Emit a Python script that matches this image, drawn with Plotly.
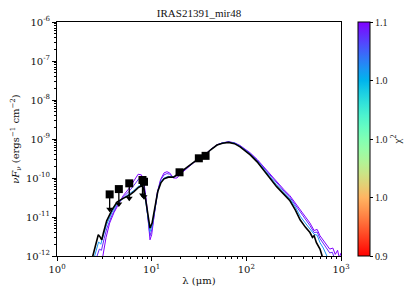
import plotly.graph_objects as go
import math

# ---------------- data ----------------
obs_wav = [3.6, 4.5, 5.8, 8.0, 8.3, 19.7, 31.5, 37.1]
obs_flux = [3.8e-11, 5.2e-11, 7.3e-11, 8.9e-11, 8.0e-11, 1.4e-10, 3.2e-10, 3.7e-10]
obs_uplim = [True, True, True, True, True, False, False, False]

best_wav = [2.3, 2.38, 2.55, 2.73, 2.85, 2.97, 3.1, 3.35, 3.8, 4.3, 5.0, 5.8, 6.5, 7.3, 7.9, 8.3,
            8.7, 9.2, 9.6, 10.1, 10.8, 11.6, 12.5, 13.5, 15, 17, 19.7, 25, 31.5, 37, 42, 49,
            56, 65, 75, 86, 100, 110, 130, 151, 180, 209, 250, 289, 330, 370, 420, 470,
            500, 520, 550, 600, 650, 700]
best_flux = [7e-13, 1.0e-12, 2.0e-12, 3.5e-12, 3.1e-12, 2.6e-12, 4.0e-12, 8.0e-12, 1.5e-11,
             2.4e-11, 3.0e-11, 3.6e-11, 4.5e-11, 5.8e-11, 6.3e-11, 5.0e-11, 2.5e-11, 9e-12,
             5.2e-12, 7e-12, 1.8e-11, 4.5e-11, 7.5e-11, 9.5e-11, 1.05e-10, 1.05e-10, 1.35e-10,
             2.1e-10, 3.2e-10, 4.0e-10, 5.3e-10, 7.0e-10, 7.8e-10, 8.2e-10, 7.6e-10, 6.3e-10,
             4.8e-10, 3.9e-10, 2.6e-10, 1.65e-10, 9.5e-11, 6.0e-11, 3.8e-11, 2.6e-11, 1.5e-11,
             8.5e-12, 5.5e-12, 4.0e-12, 3.0e-12, 3.3e-12, 2.2e-12, 1.5e-12, 8e-13, 5e-13]

m1_wav = [2.45, 2.5, 2.75, 2.9, 3.1, 3.35, 3.8, 4.3, 5.0, 5.8, 6.5, 7.3, 7.9, 8.3, 8.7, 9.2, 9.6,
          10.1, 10.8, 11.6, 12.5, 13.5, 15, 17, 19.7, 25, 31.5, 37, 42, 49, 56, 65, 75, 86,
          100, 110, 130, 151, 180, 209, 250, 289, 330, 370, 420, 470, 520, 560, 600, 650,
          700, 740, 780]
m1_flux = [8e-13, 1.0e-12, 2.3e-12, 2.0e-12, 3.5e-12, 6.5e-12, 1.3e-11, 2.2e-11, 3.0e-11,
           3.8e-11, 4.8e-11, 6.2e-11, 6.6e-11, 5.2e-11, 2.5e-11, 8e-12, 4.2e-12, 6e-12,
           1.7e-11, 4.5e-11, 8e-11, 1.0e-10, 1.1e-10, 1.05e-10, 1.32e-10, 2.1e-10, 3.2e-10,
           4.0e-10, 5.3e-10, 7.0e-10, 7.9e-10, 8.3e-10, 7.8e-10, 6.5e-10, 5.0e-10, 4.1e-10,
           2.75e-10, 1.8e-10, 1.05e-10, 6.7e-11, 4.2e-11, 2.9e-11, 1.8e-11, 1.05e-11, 7e-12,
           5e-12, 3.6e-12, 3.4e-12, 2.2e-12, 1.6e-12, 1.1e-12, 8e-13, 5e-13]

m2_wav = [2.6, 2.65, 2.8, 2.95, 3.15, 3.35, 3.8, 4.3, 5.0, 5.8, 6.5, 7.3, 7.9, 8.3, 8.7, 9.2,
          9.6, 10.1, 10.8, 11.6, 12.5, 13.5, 14.5, 15.5, 17, 19.7, 25, 31.5, 37, 42, 49, 56,
          65, 75, 86, 100, 110, 130, 151, 180, 209, 250, 289, 330, 370, 420, 470, 520, 560,
          600, 650, 700, 760, 810, 850, 900]
m2_flux = [8e-13, 1.0e-12, 1.5e-12, 1.4e-12, 2.8e-12, 5e-12, 1.1e-11, 2.0e-11, 3.2e-11,
           4.6e-11, 6.5e-11, 9.5e-11, 9.5e-11, 6.5e-11, 2.6e-11, 7.5e-12, 3.3e-12, 5e-12,
           1.5e-11, 4.5e-11, 9e-11, 1.2e-10, 1.3e-10, 1.25e-10, 1.02e-10, 1.3e-10, 2.05e-10,
           3.2e-10, 4.05e-10, 5.35e-10, 7.05e-10, 7.95e-10, 8.4e-10, 7.9e-10, 6.65e-10,
           5.15e-10, 4.25e-10, 2.9e-10, 1.9e-10, 1.12e-10, 7.2e-11, 4.6e-11, 3.2e-11,
           2.05e-11, 1.3e-11, 8.5e-12, 6e-12, 4e-12, 4.1e-12, 2.8e-12, 2.1e-12, 1.6e-12,
           1.2e-12, 1.25e-12, 9e-13, 6e-13]

m3_wav = [2.95, 3.05, 3.3, 3.6, 4.0, 4.5, 5.0, 5.8, 6.5, 7.2, 7.8, 8.3, 8.8, 9.2, 9.6, 10.0,
          10.6, 11.4, 12.4, 13.5, 14.5, 15.5, 17, 18.5, 20, 25, 31.5, 37, 42, 49, 56, 65,
          75, 86, 100, 110, 130, 151, 180, 209, 250, 289, 330, 370, 420, 470, 520, 560, 600,
          650, 700, 760, 820, 870, 920, 960, 1000]
m3_flux = [7e-13, 1.0e-12, 3e-12, 7e-12, 1.3e-11, 2.2e-11, 3.5e-11, 5.5e-11, 8.5e-11,
           1.25e-10, 1.2e-10, 7.5e-11, 2.5e-11, 7e-12, 2.6e-12, 3.5e-12, 1.2e-11, 4e-11,
           9e-11, 1.35e-10, 1.45e-10, 1.35e-10, 1.0e-10, 1.0e-10, 1.25e-10, 2.0e-10, 3.2e-10,
           4.1e-10, 5.4e-10, 7.1e-10, 8.0e-10, 8.5e-10, 8.0e-10, 6.8e-10, 5.3e-10, 4.4e-10,
           3.0e-10, 2.0e-10, 1.2e-10, 7.8e-11, 5.0e-11, 3.5e-11, 2.3e-11, 1.5e-11, 1.0e-11,
           7e-12, 4.5e-12, 4.8e-12, 3.3e-12, 2.5e-12, 2.0e-12, 1.5e-12, 1.6e-12, 1.1e-12,
           1.4e-12, 9e-13, 1.2e-12]

model_chi2 = [1.06, 1.09, 1.1]
chi2_min, chi2_max = 0.9, 1.1
cbar_ticks = [0.9, 0.95, 1.0, 1.05, 1.1]
cbar_labels = ["0.9", "1.0", "1.0", "1.0", "1.1"]

x_tickvals = [1, 10, 100, 1000]
x_ticktext = ["10<sup>0</sup>", "10<sup>1</sup>", "10<sup>2</sup>", "10<sup>3</sup>"]
y_tickvals = [1e-12, 1e-11, 1e-10, 1e-9, 1e-8, 1e-7, 1e-6]
y_ticktext = ["10<sup>-12</sup>", "10<sup>-11</sup>", "10<sup>-10</sup>", "10<sup>-9</sup>",
              "10<sup>-8</sup>", "10<sup>-7</sup>", "10<sup>-6</sup>"]


# matplotlib "rainbow" colormap formula (gnuplot 33,13,10), used reversed
def rainbow(t):
    r = min(1, abs(2 * t - 0.5))
    g = math.sin(math.pi * t)
    b = math.cos(math.pi * t / 2)
    return "rgb(%d,%d,%d)" % (round(r * 255), round(g * 255), round(max(b, 0) * 255))


ns = 21
colorscale = [[i / (ns - 1), rainbow(1 - i / (ns - 1))] for i in range(ns)]


def chi_color(c):
    f = (c - chi2_min) / (chi2_max - chi2_min)
    return rainbow(1 - f)


# page body has an 8px margin, so the figure is sized to fit the window
W, H = 407, 290
L, T, R, B = 49, 14, 74, 42
plot_w = W - L - R

fig = go.Figure()

for w, f, c in [(m3_wav, m3_flux, model_chi2[2]), (m2_wav, m2_flux, model_chi2[1]),
                (m1_wav, m1_flux, model_chi2[0])]:
    fig.add_trace(go.Scatter(x=w, y=f, mode="lines", line=dict(color=chi_color(c), width=1),
                             showlegend=False, hoverinfo="skip"))

fig.add_trace(go.Scatter(x=best_wav, y=best_flux, mode="lines",
                         line=dict(color="black", width=1.6), showlegend=False))

# upper limit arrows
arrow_factor = 0.37
ax_x, ax_y = [], []
tip_x, tip_y = [], []
for w, f, u in zip(obs_wav, obs_flux, obs_uplim):
    if u:
        ax_x += [w, w, None]
        ax_y += [f, f * arrow_factor, None]
        tip_x.append(w)
        tip_y.append(f * arrow_factor * 1.12)
fig.add_trace(go.Scatter(x=ax_x, y=ax_y, mode="lines", line=dict(color="black", width=1.3),
                         showlegend=False, hoverinfo="skip"))
fig.add_trace(go.Scatter(x=tip_x, y=tip_y, mode="markers",
                         marker=dict(symbol="triangle-down", size=6, color="black"),
                         showlegend=False, hoverinfo="skip"))

fig.add_trace(go.Scatter(x=obs_wav, y=obs_flux, mode="markers",
                         marker=dict(symbol="square", size=8, color="black"),
                         showlegend=False))

# colorbar holder
fig.add_trace(go.Scatter(
    x=[None, None], y=[None, None], mode="markers",
    marker=dict(color=[chi2_min, chi2_max], cmin=chi2_min, cmax=chi2_max,
                colorscale=colorscale, showscale=True,
                colorbar=dict(
                    x=301 / plot_w, xanchor="left", xref="paper", y=0.5, yanchor="middle",
                    len=1.0, lenmode="fraction", thickness=12, xpad=0, ypad=0,
                    outlinecolor="black", outlinewidth=1,
                    tickmode="array", tickvals=cbar_ticks, ticktext=cbar_labels,
                    ticks="outside", ticklen=3, tickcolor="black",
                    tickfont=dict(family="Liberation Serif", size=10, color="#222"),
                    title=dict(text="χ<sup>2</sup>", side="right",
                               font=dict(family="Liberation Serif", size=11, color="#222")),
                )),
    showlegend=False, hoverinfo="skip"))

axis_common = dict(showgrid=False, zeroline=False, showline=True, linecolor="black",
                   linewidth=1, mirror=True, ticks="outside", ticklen=4, tickcolor="black",
                   automargin=False,
                   tickfont=dict(family="DejaVu Serif", size=10, color="#111"))

fig.update_xaxes(type="log", range=[0, 3], tickmode="array", tickvals=x_tickvals,
                 ticktext=x_ticktext,
                 minor=dict(ticks="outside", ticklen=2, tickcolor="black", dtick="D1",
                            showgrid=False),
                 title=dict(text="λ (μm)", font=dict(family="DejaVu Serif", size=10, color="#111"),
                            standoff=2),
                 **axis_common)
fig.update_yaxes(type="log", range=[-12, -6], tickmode="array", tickvals=y_tickvals,
                 ticktext=y_ticktext,
                 minor=dict(ticks="outside", ticklen=2, tickcolor="black", dtick="D1",
                            showgrid=False),
                 title=dict(text="<i>νF<sub>ν</sub></i> (ergs<sup>−1</sup> cm<sup>−2</sup>)",
                            font=dict(family="DejaVu Serif", size=10, color="#111"),
                            standoff=4),
                 **axis_common)

fig.update_layout(
    width=W, height=H,
    margin=dict(l=L, r=R, t=T, b=B, autoexpand=False),
    paper_bgcolor="white", plot_bgcolor="white",
    title=dict(text="IRAS21391_mir48", x=(L + plot_w / 2) / W, xanchor="center",
               y=1 - 5 / H, yanchor="middle",
               font=dict(family="Liberation Serif", size=11, color="#111")),
)

fig.write_html("out.html")
